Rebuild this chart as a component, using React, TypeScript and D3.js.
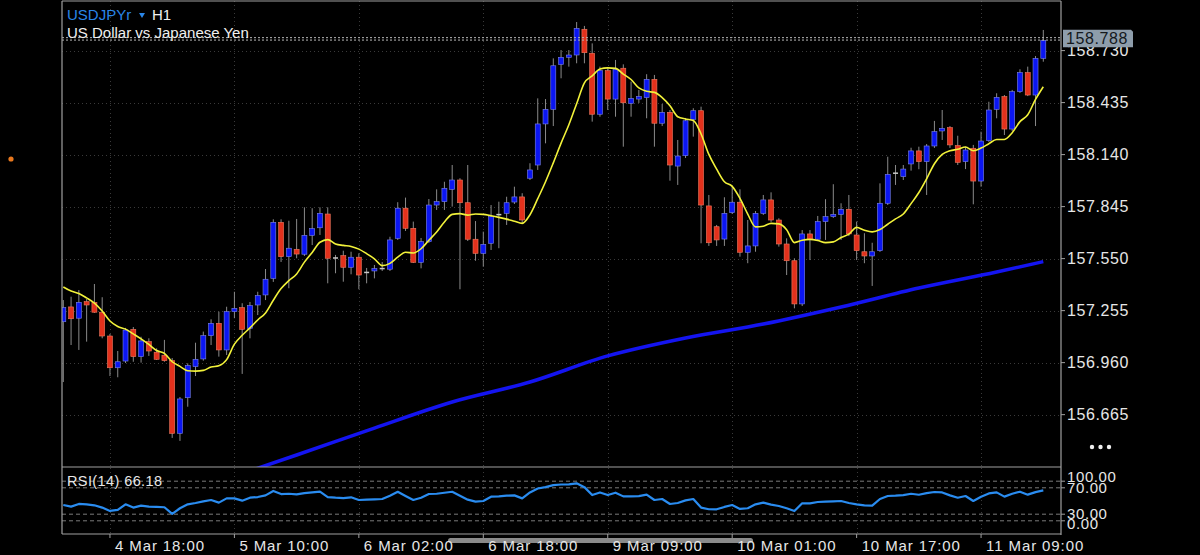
import React from "react";
import * as d3 from "d3";

// ---------- DATA (USDJPY H1) ----------
const opens = [
  157.192, 157.276, 157.212, 157.306, 157.302, 157.246, 157.111, 156.931, 156.969, 157.149,
  156.994, 157.079, 157.019, 157.002, 156.971, 156.559, 156.761, 156.937, 156.981, 157.113,
  157.183, 157.032, 157.249, 157.272, 157.155, 157.287, 157.344, 157.438, 157.756, 157.561,
  157.603, 157.575, 157.682, 157.725, 157.803, 157.555, 157.567, 157.501, 157.558, 157.470,
  157.480, 157.495, 157.490, 157.665, 157.836, 157.722, 157.529, 157.646, 157.854, 157.873,
  157.943, 157.996, 157.867, 157.660, 157.580, 157.637, 157.799, 157.807, 157.871, 157.900,
  158.006, 158.081, 158.314, 158.397, 158.652, 158.692, 158.705, 158.851, 158.715, 158.369,
  158.616, 158.455, 158.630, 158.431, 158.455, 158.463, 158.567, 158.318, 158.380, 158.075,
  158.134, 158.340, 158.389, 157.849, 157.731, 157.661, 157.811, 157.870, 157.586, 157.622,
  157.807, 157.883, 157.769, 157.633, 157.538, 157.293, 157.690, 157.660, 157.760, 157.788,
  157.801, 157.830, 157.684, 157.589, 157.565, 157.595, 157.864, 158.034, 158.015, 158.087,
  158.161, 158.100, 158.189, 158.274, 158.293, 158.191, 158.100, 158.176, 157.990, 158.219,
  158.397, 158.469, 158.285, 158.497, 158.605, 158.478, 158.686,
];
const highs = [
  157.315, 157.334, 157.372, 157.321, 157.406, 157.331, 157.123, 157.026, 157.157, 157.162,
  157.107, 157.098, 157.041, 157.089, 156.986, 156.765, 156.956, 157.073, 157.136, 157.206,
  157.249, 157.277, 157.362, 157.297, 157.304, 157.362, 157.491, 157.773, 157.773, 157.765,
  157.775, 157.841, 157.836, 157.841, 157.841, 157.571, 157.595, 157.589, 157.580, 157.497,
  157.514, 157.531, 157.674, 157.870, 157.896, 157.760, 157.667, 157.888, 157.943, 157.986,
  158.081, 158.006, 158.081, 157.763, 157.703, 157.854, 157.873, 157.901, 157.958, 157.921,
  158.091, 158.459, 158.455, 158.686, 158.733, 158.733, 158.892, 158.870, 158.771, 158.639,
  158.630, 158.677, 158.652, 158.554, 158.507, 158.596, 158.592, 158.427, 158.393, 158.223,
  158.348, 158.403, 158.412, 157.911, 157.741, 157.898, 157.958, 157.943, 157.769, 157.820,
  157.911, 157.926, 157.779, 157.665, 157.552, 157.712, 157.712, 157.792, 157.887, 157.972,
  157.864, 157.911, 157.760, 157.694, 157.640, 157.977, 158.128, 158.081, 158.081, 158.179,
  158.185, 158.200, 158.331, 158.393, 158.302, 158.247, 158.185, 158.195, 158.270, 158.440,
  158.488, 158.478, 158.507, 158.624, 158.639, 158.699, 158.847,
];
const lows = [
  156.850, 157.060, 157.032, 157.079, 157.242, 157.098, 156.884, 156.877, 156.958, 156.965,
  156.960, 156.998, 156.975, 156.965, 156.533, 156.516, 156.710, 156.884, 156.971, 157.060,
  156.994, 157.003, 157.212, 156.896, 157.098, 157.230, 157.315, 157.418, 157.531, 157.382,
  157.552, 157.565, 157.627, 157.684, 157.410, 157.467, 157.419, 157.461, 157.376, 157.410,
  157.438, 157.480, 157.480, 157.656, 157.707, 157.525, 157.495, 157.639, 157.826, 157.826,
  157.845, 157.376, 157.650, 157.538, 157.504, 157.599, 157.609, 157.741, 157.860, 157.750,
  157.996, 158.053, 158.204, 158.302, 158.573, 158.639, 158.658, 158.658, 158.327, 158.355,
  158.393, 158.355, 158.185, 158.355, 158.433, 158.346, 158.185, 158.302, 157.992, 157.968,
  158.121, 158.242, 157.637, 157.622, 157.622, 157.622, 157.803, 157.561, 157.524, 157.589,
  157.798, 157.758, 157.618, 157.457, 157.268, 157.281, 157.542, 157.650, 157.656, 157.781,
  157.656, 157.678, 157.542, 157.524, 157.395, 157.588, 157.854, 157.968, 157.996, 158.049,
  158.057, 157.911, 158.178, 158.223, 158.178, 158.081, 158.058, 157.858, 157.958, 158.212,
  158.346, 158.251, 158.274, 158.490, 158.472, 158.302, 158.667,
];
const closes = [
  157.272, 157.209, 157.302, 157.287, 157.246, 157.111, 156.931, 156.965, 157.145, 156.994,
  157.083, 157.026, 156.979, 156.971, 156.559, 156.754, 156.943, 156.979, 157.113, 157.183,
  157.032, 157.249, 157.268, 157.149, 157.283, 157.340, 157.433, 157.756, 157.561, 157.609,
  157.576, 157.682, 157.720, 157.807, 157.552, 157.554, 157.501, 157.558, 157.457, 157.473,
  157.493, 157.492, 157.656, 157.836, 157.722, 157.529, 157.646, 157.854, 157.873, 157.949,
  157.996, 157.867, 157.660, 157.580, 157.631, 157.788, 157.801, 157.867, 157.900, 157.769,
  158.053, 158.314, 158.397, 158.644, 158.692, 158.705, 158.856, 158.718, 158.369, 158.616,
  158.455, 158.624, 158.434, 158.459, 158.469, 158.567, 158.318, 158.380, 158.081, 158.132,
  158.332, 158.389, 157.854, 157.640, 157.656, 157.807, 157.870, 157.586, 157.622, 157.807,
  157.883, 157.769, 157.633, 157.538, 157.293, 157.690, 157.660, 157.760, 157.788, 157.801,
  157.830, 157.690, 157.595, 157.565, 157.589, 157.864, 158.028, 158.036, 158.058, 158.161,
  158.100, 158.189, 158.270, 158.289, 158.195, 158.096, 158.166, 157.990, 158.217, 158.393,
  158.465, 158.285, 158.497, 158.605, 158.478, 158.686, 158.788,
];
// yellow moving average (as drawn)
const maFast = [
  157.389, 157.366, 157.352, 157.327, 157.298, 157.253, 157.196, 157.165, 157.150, 157.123,
  157.095, 157.063, 157.029, 157.012, 156.965, 156.939, 156.914, 156.912, 156.916, 156.935,
  156.942, 156.977, 157.065, 157.115, 157.157, 157.202, 157.242, 157.314, 157.380, 157.425,
  157.463, 157.530, 157.585, 157.643, 157.658, 157.633, 157.625, 157.619, 157.604, 157.578,
  157.549, 157.510, 157.523, 157.558, 157.586, 157.582, 157.606, 157.654, 157.701, 157.758,
  157.801, 157.805, 157.797, 157.803, 157.801, 157.793, 157.784, 157.774, 157.762, 157.750,
  157.799, 157.890, 157.986, 158.093, 158.205, 158.309, 158.429, 158.547, 158.587, 158.625,
  158.632, 158.629, 158.597, 158.566, 158.518, 158.499, 158.493, 158.463, 158.417, 158.355,
  158.342, 158.334, 158.257, 158.141, 158.058, 157.986, 157.960, 157.892, 157.803, 157.730,
  157.734, 157.750, 157.747, 157.714, 157.641, 157.654, 157.659, 157.653, 157.641, 157.645,
  157.670, 157.689, 157.727, 157.711, 157.702, 157.715, 157.745, 157.775, 157.803, 157.862,
  157.925, 158.003, 158.088, 158.141, 158.162, 158.170, 158.183, 158.162, 158.177, 158.202,
  158.226, 158.226, 158.264, 158.327, 158.366, 158.453, 158.525,
];
// thick blue slow moving average, read at these bars
const maSlowBars = [24, 30, 40, 50, 60, 70, 80, 90, 100, 110, 120, 126];
const maSlowVals = [156.346, 156.436, 156.589, 156.737, 156.850, 156.998, 157.100, 157.179, 157.276, 157.383, 157.474, 157.533];
// RSI(14)
const rsiVals = [
  44, 41.5, 45.5, 45, 43.5, 40, 35, 36.5, 45, 40,
  43, 41.5, 41, 40.5, 30.5, 39, 45, 47, 49.5, 51.5,
  47.5, 54, 54, 50.5, 55, 56, 58.5, 65.2, 60.5, 61,
  60, 62, 63, 64.2, 56, 55, 54.5, 55.6, 51.5, 52,
  52.5, 53, 58, 64, 57.6, 51.5, 55, 60.6, 61, 62.5,
  64, 58, 52, 49, 50, 56.5, 57, 58, 58.5, 54,
  63, 69, 71, 74, 75, 75.3, 76.8, 71, 59, 63,
  59, 62.6, 57, 57, 57.5, 59.6, 51.5, 53, 45.5, 47,
  51, 53, 40, 37.5, 37.4, 41, 43.9, 38, 39, 45,
  47.5, 44.5, 42.4, 39, 34.8, 46.5, 46.5, 48.5, 49, 49.5,
  50, 47, 45, 43.5, 43, 53, 57.6, 58, 59, 61,
  59.5, 62, 63.6, 63, 58.5, 55, 57.6, 50, 56.5, 61.5,
  63.1, 56.6, 61, 64.1, 59.6, 63.5, 66.18,
];
const timeTickBars = [6, 22, 38, 54, 70, 86, 102, 118];
const timeTickLabels = ["4 Mar 18:00", "5 Mar 10:00", "6 Mar 02:00", "6 Mar 18:00", "9 Mar 09:00", "10 Mar 01:00", "10 Mar 17:00", "11 Mar 09:00"];
const priceTicks = [156.665, 156.96, 157.255, 157.55, 157.845, 158.14, 158.435, 158.73];
const rsiLevels = [80, 70, 30, 20];
const rsiLabelTexts = ["100.00", "70.00", "30.00", "0.00"];
const lastPrice = 158.788;
const symbol = "USDJPYr";
const timeframe = "H1";
const description = "US Dollar vs Japanese Yen";
const rsiTitle = "RSI(14) 66.18";

// ---------- LAYOUT ----------
const W = 1200;
const H = 555;
const L = 62;
const R = 1061;
const TOP = 1;
const MAIN_B = 467;
const RSI_T = 468;
const RSI_B = 534;
const FONT = "'Liberation Sans', Arial, Helvetica, sans-serif";

export default function App() {
  const n = closes.length;
  const x = d3.scaleLinear().domain([0, n - 1]).range([63.3, 1043.3]);
  const y = d3.scaleLinear().domain([156.368, 159.017]).range([MAIN_B, 0]);
  const yr = d3.scaleLinear().domain([0, 100]).range([RSI_B, RSI_T]);

  const idx = d3.range(n);
  const fastLine = d3.line<number>().x((i) => x(i)).y((i) => y(maFast[i])).curve(d3.curveMonotoneX)(idx) || "";
  const slowLine =
    d3
      .line<number>()
      .x((k) => x(maSlowBars[k]))
      .y((k) => y(maSlowVals[k]))
      .curve(d3.curveMonotoneX)(d3.range(maSlowBars.length)) || "";
  const rsiLine = d3.line<number>().x((i) => x(i)).y((i) => yr(rsiVals[i]))(idx) || "";

  const bw = 5;
  const yLast = y(lastPrice) - 1.5;

  const rsiLabelY = [yr(85) + 4, yr(70) + 5, yr(30) + 5, yr(15) + 5];

  return (
    <svg
      width={W}
      height={H}
      style={{ position: "absolute", left: 0, top: 0, background: "#000", display: "block" }}
      fontFamily={FONT}
    >
      <rect x={0} y={0} width={W} height={H} fill="#000" />
      <defs>
        <clipPath id="mainClip">
          <rect x={L} y={TOP} width={R - L} height={MAIN_B - TOP} />
        </clipPath>
        <clipPath id="rsiClip">
          <rect x={L} y={RSI_T} width={R - L} height={RSI_B - RSI_T} />
        </clipPath>
      </defs>

      {/* orange dot */}
      <circle cx={11} cy={159} r={2.6} fill="#e8781e" />

      {/* grid */}
      <g stroke="#3a3a3a" strokeWidth={1} strokeDasharray="1,3">
        {priceTicks.map((p) => (
          <line key={"gh" + p} x1={L} x2={R} y1={Math.round(y(p)) + 0.5} y2={Math.round(y(p)) + 0.5} />
        ))}
        {timeTickBars.map((b) => (
          <line key={"gv" + b} x1={Math.round(x(b)) + 0.5} x2={Math.round(x(b)) + 0.5} y1={TOP} y2={MAIN_B} />
        ))}
        {timeTickBars.map((b) => (
          <line key={"gvr" + b} x1={Math.round(x(b)) + 0.5} x2={Math.round(x(b)) + 0.5} y1={RSI_T} y2={RSI_B} />
        ))}
      </g>

      {/* main panel content */}
      <g clipPath="url(#mainClip)">
        <path d={slowLine} fill="none" stroke="#1414f0" strokeWidth={3.5} />
        {idx.map((i) => {
          const o = opens[i];
          const c = closes[i];
          const up = c >= o;
          const doji = Math.abs(c - o) < 0.004;
          const yTop = y(Math.max(o, c));
          const yBot = y(Math.min(o, c));
          const cx = x(i);
          return (
            <g key={"c" + i}>
              <line x1={cx} x2={cx} y1={y(highs[i])} y2={y(lows[i])} stroke="#8a8a8a" strokeWidth={1} />
              {doji ? (
                <rect x={cx - bw / 2} y={yTop - 0.5} width={bw} height={Math.max(1.5, yBot - yTop)} fill="#c8c8c8" />
              ) : (
                <rect
                  x={cx - bw / 2}
                  y={yTop}
                  width={bw}
                  height={Math.max(1, yBot - yTop)}
                  fill={up ? "#0b16f2" : "#e3311c"}
                  stroke={up ? "#7c84e8" : "#f07a60"}
                  strokeWidth={0.6}
                />
              )}
            </g>
          );
        })}
        <path d={fastLine} fill="none" stroke="#f2f23a" strokeWidth={1.6} />
        {/* last price dotted line */}
        <line x1={L} x2={R} y1={yLast - 1.2} y2={yLast - 1.2} stroke="#b8b8b8" strokeWidth={1} strokeDasharray="2,2" />
        <line x1={L} x2={R} y1={yLast + 1.2} y2={yLast + 1.2} stroke="#b8b8b8" strokeWidth={1} strokeDasharray="2,2" />
      </g>

      {/* RSI panel */}
      <g stroke="#7a7a7a" strokeWidth={1} strokeDasharray="4,3">
        {rsiLevels.map((lv) => (
          <line key={"rl" + lv} x1={L} x2={R} y1={yr(lv)} y2={yr(lv)} />
        ))}
      </g>
      <g clipPath="url(#rsiClip)">
        <path d={rsiLine} fill="none" stroke="#2a8cf0" strokeWidth={2.2} strokeLinejoin="round" />
      </g>
      <text x={67} y={486} fill="#e8e8e8" fontSize={14.5} letterSpacing={0.4}>
        {rsiTitle}
      </text>

      {/* frames */}
      <g stroke="#a0a0a0" strokeWidth={1.2} fill="none">
        <line x1={L} x2={R} y1={TOP} y2={TOP} />
        <line x1={L} x2={L} y1={TOP} y2={RSI_B} />
        <line x1={R} x2={R} y1={TOP} y2={RSI_B + 1} />
        <line x1={L} x2={R} y1={MAIN_B} y2={MAIN_B} />
        <line x1={L} x2={R} y1={RSI_B} y2={RSI_B} />
      </g>

      {/* price axis */}
      {priceTicks.map((p) => (
        <g key={"pt" + p}>
          <line x1={R} x2={R + 4} y1={y(p)} y2={y(p)} stroke="#a0a0a0" strokeWidth={1} />
          <text x={1067} y={y(p) + 5.5} fill="#e6e6e6" fontSize={16} letterSpacing={0.6}>
            {p.toFixed(3)}
          </text>
        </g>
      ))}

      {/* last price label */}
      <path
        d={`M${R + 2},${yLast - 9} H${R + 70} L${R + 72},${yLast - 7} V${yLast + 8.5} H${R + 2} Z`}
        fill="#8e9dab"
      />
      <text x={1066} y={yLast + 5.5} fill="#15191d" fontSize={16} letterSpacing={0.6}>
        {lastPrice.toFixed(3)}
      </text>

      {/* dots */}
      {[0, 1, 2].map((k) => (
        <circle key={"d" + k} cx={1092 + k * 8.5} cy={447} r={2.2} fill="#f0f0f0" />
      ))}

      {/* RSI axis */}
      {rsiLevels.map((lv) => (
        <line key={"rt" + lv} x1={R} x2={R + 4} y1={yr(lv)} y2={yr(lv)} stroke="#a0a0a0" strokeWidth={1} />
      ))}
      {rsiLabelTexts.map((t, k) => (
        <text key={"rlab" + t} x={1067} y={rsiLabelY[k]} fill="#e6e6e6" fontSize={15} letterSpacing={0.6}>
          {t}
        </text>
      ))}

      {/* scroll bar */}
      <rect x={448} y={538} width={305} height={5} rx={2.5} fill="#8a8a8a" />

      {/* time axis */}
      {timeTickBars.map((b, k) => (
        <g key={"tt" + b}>
          <line x1={x(b)} x2={x(b)} y1={RSI_B} y2={RSI_B + 4} stroke="#a0a0a0" strokeWidth={1} />
          <text x={x(b) + 5} y={551} fill="#e6e6e6" fontSize={15} letterSpacing={0.9}>
            {timeTickLabels[k]}
          </text>
        </g>
      ))}

      {/* header */}
      <text x={67} y={20} fontSize={15} fill="#2a86e8">
        {symbol}
      </text>
      <path d="M139,13 L145,13 L142,18 Z" fill="#2a86e8" />
      <text x={152} y={20} fontSize={15} fill="#f0f0f0">
        {timeframe}
      </text>
      <text x={67} y={38} fontSize={15} fill="#f0f0f0">
        {description}
      </text>
    </svg>
  );
}
